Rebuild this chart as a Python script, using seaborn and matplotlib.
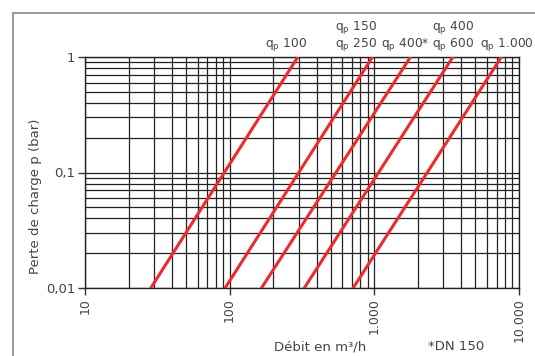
import matplotlib
matplotlib.use("Agg")
import matplotlib.pyplot as plt
import matplotlib.ticker as mticker
from matplotlib.lines import Line2D
import matplotlib.transforms as mtrans
import seaborn as sns
import pandas as pd

# Data
series = ["qp 100", "qp 150 / qp 250", "qp 400*", "qp 400 / qp 600", "qp 1.000"]
flow_at_p001 = [28.5, 93, 166, 328, 714]      # m3/h at p = 0.01 bar
flow_at_p1 = [296, 971, 1778, 3491, 7550]     # m3/h at p = 1 bar
p_ends = [0.01, 1.0]

x_ticks = [10, 100, 1000, 10000]
x_ticklabels = ["10", "100", "1.000", "10.000"]
y_ticks = [0.01, 0.1, 1]
y_ticklabels = ["0,01", "0,1", "1"]

rows = []
for name, lo, hi in zip(series, flow_at_p001, flow_at_p1):
    rows.append({"serie": name, "Q": lo, "p": p_ends[0]})
    rows.append({"serie": name, "Q": hi, "p": p_ends[1]})
df = pd.DataFrame(rows)

sns.set_style("white")
plt.rcParams["font.family"] = ["DejaVu Sans"]
plt.rcParams["xtick.bottom"] = True
plt.rcParams["ytick.left"] = True
plt.rcParams["xtick.major.size"] = 5
plt.rcParams["ytick.major.size"] = 5

fig = plt.figure(figsize=(5.35, 3.56), dpi=100)
ax = fig.add_axes([85/535, 1-288/356, (519-85)/535, (288-57)/356])

ax.set_xscale("log")
ax.set_yscale("log")
ax.set_xlim(10, 10000)
ax.set_ylim(0.01, 1)

ax.xaxis.set_minor_locator(mticker.LogLocator(base=10, subs=range(2, 10)))
ax.yaxis.set_minor_locator(mticker.LogLocator(base=10, subs=range(2, 10)))
ax.grid(True, which="both", color="#222222", linewidth=0.9)
ax.set_axisbelow(True)

sns.lineplot(data=df, x="Q", y="p", units="serie", estimator=None,
             color="#ee2a2a", linewidth=2.2, ax=ax, legend=False, zorder=3)

ax.set_xticks(x_ticks)
ax.set_xticklabels(x_ticklabels, rotation=90, fontsize=9, color="#444444")
ax.set_yticks(y_ticks)
ax.set_yticklabels(y_ticklabels, fontsize=9.5, color="#444444")
ax.tick_params(axis="both", which="major", length=5, width=1, color="#333333",
               direction="out", bottom=True, left=True, pad=2)
ax.tick_params(axis="both", which="minor", length=0)
for s in ax.spines.values():
    s.set_color("#222222")
    s.set_linewidth(1)

ax.set_xlabel("")
ax.set_ylabel("")
fig.text(36/535, 1-196/356, "Perte de charge p (bar)", rotation=90, ha="center",
         va="center", fontsize=9.5, color="#444444")

# x label and footnote
fig.text(320/535, 1-347/356, "Débit en m³/h", ha="center", va="center",
         fontsize=9.5, color="#444444")
fig.text(456/535, 1-347/356, "*DN 150", ha="center", va="center",
         fontsize=9.5, color="#444444")

# line labels above the plot
tr = mtrans.blended_transform_factory(ax.transData, ax.transAxes)
lab_top = 1 + (57-28)/231
lab_bot = 1 + (57-45)/231
labels = [
    (245, lab_bot, "q$_\\mathrm{p}$ 100"),
    (747, lab_top, "q$_\\mathrm{p}$ 150"),
    (747, lab_bot, "q$_\\mathrm{p}$ 250"),
    (1626, lab_bot, "q$_\\mathrm{p}$ 400*"),
    (3491, lab_top, "q$_\\mathrm{p}$ 400"),
    (3491, lab_bot, "q$_\\mathrm{p}$ 600"),
    (8200, lab_bot, "q$_\\mathrm{p}$ 1.000"),
]
for x, y, t in labels:
    ax.text(x, y, t, transform=tr, ha="center", va="center", fontsize=8.8,
            color="#444444", clip_on=False)

# outer frame lines
fig.add_artist(Line2D([13/535, 13/535], [1-13/356, 0], transform=fig.transFigure,
                      color="#888888", linewidth=1.2))
fig.add_artist(Line2D([13/535, 1], [1-13/356, 1-13/356], transform=fig.transFigure,
                      color="#888888", linewidth=1.2))

fig.savefig("out.png", dpi=100)
